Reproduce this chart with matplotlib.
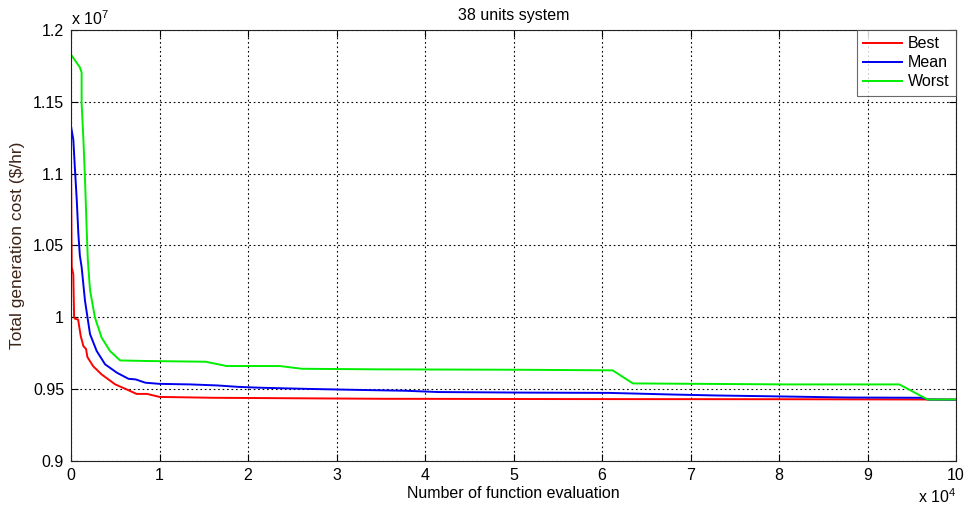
import matplotlib
matplotlib.use("Agg")
import matplotlib.pyplot as plt

plt.rcParams['font.family'] = ['Liberation Sans', 'DejaVu Sans']
plt.rcParams['mathtext.fontset'] = 'custom'
plt.rcParams['mathtext.rm'] = 'Liberation Sans'
plt.rcParams['mathtext.it'] = 'Liberation Sans'

# x in units of 1e4 evaluations, y in units of 1e7 $/hr
best_x = [0, 0.008, 0.026, 0.035, 0.045, 0.08, 0.11, 0.14, 0.17, 0.185, 0.25, 0.345,
          0.5, 0.63, 0.74, 0.86, 1.0, 1.61, 3.53, 5.64, 8.0, 9.7, 10]
best_y = [1.11, 1.035, 1.030, 1.0, 0.999, 0.9985, 0.987, 0.980, 0.978, 0.9724, 0.966,
          0.9603, 0.9533, 0.9498, 0.9467, 0.9467, 0.9446, 0.944, 0.9433, 0.9431, 0.943,
          0.9428, 0.9427]

mean_x = [0, 0.026, 0.045, 0.065, 0.083, 0.1, 0.12, 0.158, 0.215, 0.29, 0.385, 0.52,
          0.65, 0.73, 0.84, 1.0, 1.35, 1.65, 1.89, 2.14, 2.67, 3.23, 3.78, 4.15, 5.13,
          6.08, 6.78, 7.3, 7.85, 8.76, 9.62, 9.68, 10]
mean_y = [1.133, 1.1237, 1.1027, 1.0817, 1.0583, 1.043, 1.035, 1.0116, 0.9883, 0.9766,
          0.9673, 0.9614, 0.9572, 0.9568, 0.9545, 0.9537, 0.9533, 0.9526, 0.9516, 0.951,
          0.9502, 0.9495, 0.9489, 0.948, 0.9476, 0.9474, 0.9463, 0.9456, 0.9451, 0.9442,
          0.944, 0.9428, 0.9427]

worst_x = [0.01, 0.1, 0.12, 0.12, 0.14, 0.16, 0.175, 0.19, 0.215, 0.27, 0.345, 0.44,
           0.555, 0.855, 1.52, 1.76, 2.36, 2.61, 3.46, 5.1, 6.12, 6.35, 8.11, 9.36,
           9.68, 10]
worst_y = [1.182, 1.174, 1.1704, 1.149, 1.124, 1.093, 1.065, 1.04, 1.019, 1.0, 0.986,
           0.9766, 0.970, 0.9696, 0.9691, 0.9661, 0.9661, 0.9642, 0.9638, 0.9635,
           0.9631, 0.954, 0.9533, 0.9533, 0.9428, 0.9428]

x_ticks = list(range(0, 11))
y_ticks = [0.9, 0.95, 1.0, 1.05, 1.1, 1.15, 1.2]
y_tick_labels = ['0.9', '0.95', '1', '1.05', '1.1', '1.15', '1.2']

fig = plt.figure(figsize=(9.75, 5.05), dpi=100)
ax = fig.add_axes([71/975, 1 - 461/505, (956-71)/975, (461-30)/505])

lw = 1.4
ax.plot(best_x, best_y, color='#ff0000', lw=lw, label='Best')
ax.plot(mean_x, mean_y, color='#0000ee', lw=lw, label='Mean')
ax.plot(worst_x, worst_y, color='#00ee00', lw=lw, label='Worst')

ax.set_xlim(0, 10)
ax.set_ylim(0.9, 1.2)
ax.set_xticks(x_ticks)
ax.set_xticklabels([str(t) for t in x_ticks])
ax.set_yticks(y_ticks)
ax.set_yticklabels(y_tick_labels)
ax.grid(True, color='black', linestyle=(0, (1.5, 2.5)), linewidth=0.8)
ax.tick_params(direction='in', length=5, top=True, right=True, labelsize=11.5,
               width=0.8, pad=5)
for s in ax.spines.values():
    s.set_linewidth(0.8)
    s.set_color('#222222')

ax.set_title('38 units system', fontsize=11.5, pad=7)
ax.set_xlabel('Number of function evaluation', fontsize=11.5, labelpad=2)
ax.set_ylabel('Total generation cost ($/hr)', fontsize=12.5, color='#3d2418', labelpad=6)

ax.text(0.0, 1.005, r'x 10$^{7}$', transform=ax.transAxes, ha='left', va='bottom',
        fontsize=11.5)
ax.text(1.0, -0.062, r'x 10$^{4}$', transform=ax.transAxes, ha='right', va='top',
        fontsize=11.5)

leg = ax.legend(loc='upper right', fontsize=11.5, frameon=True, fancybox=False,
                borderaxespad=0.0, handlelength=2.4, labelspacing=0.25,
                handletextpad=0.4, borderpad=0.4)
leg.get_frame().set_edgecolor('#444444')
leg.get_frame().set_linewidth(0.8)

fig.savefig('out.png', dpi=100)
